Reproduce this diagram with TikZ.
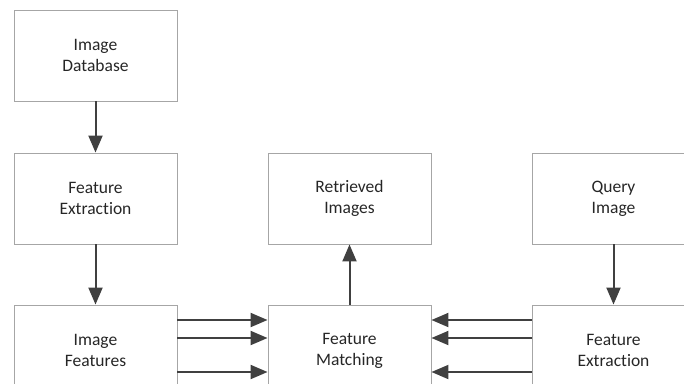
\documentclass[tikz,border=0pt]{standalone}
\usepackage{fontspec}
\setmainfont{Carlito}[Ligatures=NoCommon]
\usepackage{xcolor}
\usetikzlibrary{arrows.meta}

\tikzset{
  blk/.style={draw=gray!70,line width=0.9pt,minimum width=163pt,minimum height=91pt,align=center,inner sep=0pt,font=\fontsize{17.5}{21}\selectfont,text=black!85},
  flow/.style={draw=black!75,line width=2pt,-{Triangle[length=17pt,width=14pt]}}
}

\begin{document}
\begin{tikzpicture}[x=1pt,y=-1pt]
\useasboundingbox (0,0) rectangle (684,383);
\node[blk] (db) at (95.5,55.5) {Image\\Database};
\node[blk] (fel) at (95.5,198.5) {Feature\\Extraction};
\node[blk] (if) at (95.5,350.5) {Image\\Features};
\node[blk] (ri) at (349.5,198.5) {Retrieved\\Images};
\node[blk] (fm) at (349.5,350.5) {Feature\\Matching};
\node[blk] (qi) at (613.5,198.5) {Query\\Image};
\node[blk] (fer) at (613.5,350.5) {Feature\\Extraction};

\draw[flow] (db) -- (fel);
\draw[flow] (fel) -- (if);
\draw[flow] (fm) -- (ri);
\draw[flow] (qi) -- (fer);
% three links each side
\foreach \y in {320,338,372}{
  \draw[flow] (if.east|-0,\y) -- (fm.west|-0,\y);
  \draw[flow] (fer.west|-0,\y) -- (fm.east|-0,\y);
}
\end{tikzpicture}
\end{document}
